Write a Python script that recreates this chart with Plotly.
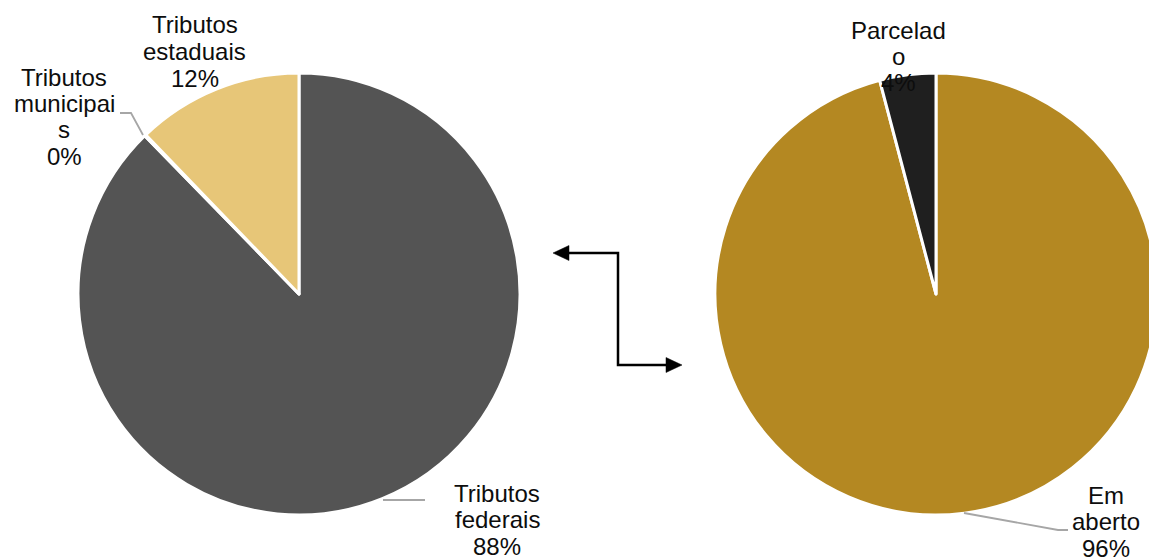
import plotly.graph_objects as go

# ---- data ----
left_labels = ["Tributos federais", "Tributos municipais", "Tributos estaduais"]
left_values = [87.7, 0.1, 12.2]
left_colors = ["#545454", "#A6A6A6", "#E7C678"]
left_label_lines = [["Tributos", "federais"], ["Tributos", "municipai", "s"], ["Tributos", "estaduais"]]

right_labels = ["Em aberto", "Parcelado"]
right_values = [95.9, 4.1]
right_colors = ["#B48822", "#1F1F1F"]
right_label_lines = [["Em", "aberto"], ["Parcelad", "o"]]

# ---- layout helpers (pixel -> paper) ----
# figure is slightly wider than the 1149px window so the right pie is clipped as in the original
W, H = 1158, 559
def px(x):
    return x / W
def py(y):
    return 1 - y / H

FONT = "Liberation Sans"
FS = 24
LINE = 26.5

fig = go.Figure()
fig.add_trace(go.Pie(
    labels=left_labels, values=left_values, sort=False, direction="clockwise", rotation=0,
    marker=dict(colors=left_colors, line=dict(color="white", width=3)),
    textinfo="none", hoverinfo="label+percent", showlegend=False,
    domain=dict(x=[px(78), px(520)], y=[py(515), py(73)]),
))
fig.add_trace(go.Pie(
    labels=right_labels, values=right_values, sort=False, direction="clockwise", rotation=0,
    marker=dict(colors=right_colors, line=dict(color="white", width=3)),
    textinfo="none", hoverinfo="label+percent", showlegend=False,
    domain=dict(x=[px(715), px(1157)], y=[py(515), py(73)]),
))

annotations = []
def add_label(lines, cx, first_baseline):
    for i, t in enumerate(lines):
        b = first_baseline + i * LINE
        annotations.append(dict(
            x=px(cx), y=py(b - 8), xref="paper", yref="paper",
            text=t, showarrow=False, xanchor="center", yanchor="middle",
            font=dict(family=FONT, size=FS, color="#0D0D0D"),
        ))

def pct(values, i):
    return f"{round(values[i] / sum(values) * 100)}%"

# label placements (centre x, first baseline y) in pixels
left_pos = [(497, 501), (64, 85), (195, 33)]
right_pos = [(1106, 503), (898, 38)]
for i, lines in enumerate(left_label_lines):
    cx, by = left_pos[i]
    add_label(lines + [pct(left_values, i)], cx, by)
for i, lines in enumerate(right_label_lines):
    cx, by = right_pos[i]
    add_label(lines + [pct(right_values, i)], cx, by)

def path(points, close=False):
    s = "M " + " L ".join(f"{px(x)},{py(y)}" for x, y in points)
    return s + (" Z" if close else "")

shapes = []
# leader lines
gray = "#A6A6A6"
for pts in [[(120, 113), (131, 113), (143, 135)],
            [(383, 500), (425, 500)],
            [(964, 513), (1058, 530), (1068, 530)]]:
    shapes.append(dict(type="path", xref="paper", yref="paper", path=path(pts),
                       line=dict(color=gray, width=1.8)))

# elbow double arrow connector
shapes.append(dict(type="path", xref="paper", yref="paper",
                   path=path([(566, 253), (618, 253), (618, 365), (669, 365)]),
                   line=dict(color="black", width=2.5)))
shapes.append(dict(type="path", xref="paper", yref="paper",
                   path=path([(553, 253), (569, 245.5), (569, 260.5)], close=True),
                   fillcolor="black", line=dict(color="black", width=0.5)))
shapes.append(dict(type="path", xref="paper", yref="paper",
                   path=path([(682, 365), (666, 357.5), (666, 372.5)], close=True),
                   fillcolor="black", line=dict(color="black", width=0.5)))

fig.update_layout(
    width=W, height=H, margin=dict(l=0, r=0, t=0, b=0),
    paper_bgcolor="white", plot_bgcolor="white",
    annotations=annotations, shapes=shapes,
)
fig.write_html("out.html", config={"displayModeBar": False},
               post_script="document.body.style.margin='0';document.body.style.overflow='hidden';")
